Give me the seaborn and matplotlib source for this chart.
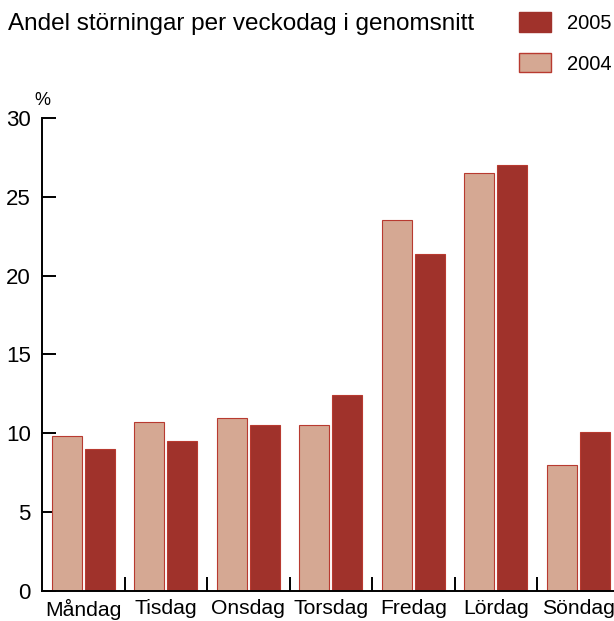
import matplotlib
matplotlib.use("Agg")
import matplotlib.pyplot as plt
import seaborn as sns
import pandas as pd
import numpy as np
from matplotlib.patches import Patch

days = ["Måndag", "Tisdag", "Onsdag", "Torsdag", "Fredag", "Lördag", "Söndag"]
share_2004 = [9.8, 10.7, 11.0, 10.5, 23.5, 26.5, 8.0]
share_2005 = [9.0, 9.5, 10.5, 12.4, 21.4, 27.0, 10.1]
years = ["2004", "2005"]
colors = {"2004": "#D5A893", "2005": "#A0322B"}

df = pd.DataFrame({
    "dag": days * 2,
    "andel": share_2004 + share_2005,
    "ar": ["2004"] * len(days) + ["2005"] * len(days),
})

sns.set_style("white")
plt.rcParams["font.family"] = ["Liberation Sans", "DejaVu Sans"]
plt.rcParams["text.color"] = "black"
plt.rcParams["xtick.color"] = "black"
plt.rcParams["ytick.color"] = "black"

fig = plt.figure(figsize=(6.14, 6.21), dpi=100)
ax = fig.add_axes([0.0684, 0.0483, 0.9406, 0.7617])

sns.barplot(data=df, x="dag", y="andel", hue="ar", hue_order=years,
            palette=colors, saturation=1, width=0.8, gap=0.09, ax=ax,
            edgecolor="#B83A30", linewidth=0.8, legend=False)

ax.set_xlim(-0.5, len(days) - 0.5)
ax.set_ylim(0, 30)
ax.set_yticks([0, 5, 10, 15, 20, 25, 30])
ax.set_xlabel("")
ax.set_ylabel("")
sns.despine(ax=ax)
for s in ["left", "bottom"]:
    ax.spines[s].set_linewidth(1.4)
    ax.spines[s].set_color("black")

ax.tick_params(axis="y", left=True, direction="in", length=10, width=1.4, labelsize=16, pad=8)
ax.tick_params(axis="x", which="major", bottom=True, length=0, labelsize=15.2, pad=6)
ax.set_xticks(np.arange(0.5, len(days) - 0.5), minor=True)
ax.tick_params(axis="x", which="minor", bottom=True, direction="in", length=10, width=1.4)

ax.text(0.0, 1.02, "%", transform=ax.transAxes, fontsize=13, ha="center", va="bottom")

fig.text(0.013, 0.962, "Andel störningar per veckodag i genomsnitt", fontsize=17.5,
         ha="left", va="center")

handles = [Patch(facecolor=colors["2005"], edgecolor=colors["2005"]),
           Patch(facecolor=colors["2004"], edgecolor="#B83A30")]
fig.legend(handles, ["2005", "2004"], loc="upper left", bbox_to_anchor=(0.845, 0.98),
           frameon=False, fontsize=14.5, handlelength=1.6, handleheight=1.1,
           handletextpad=0.8, labelspacing=1.0, borderaxespad=0, borderpad=0)

fig.savefig("out.png", dpi=100)
